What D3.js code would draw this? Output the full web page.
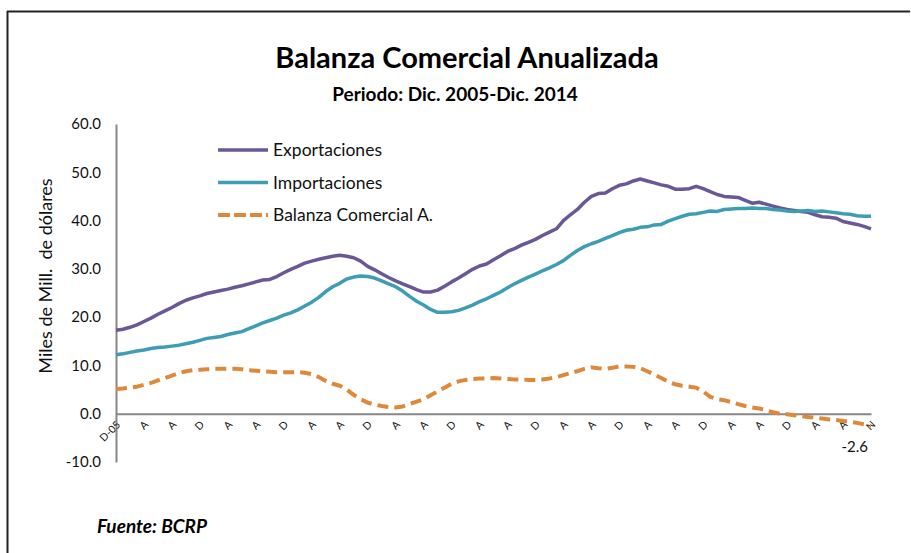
<!DOCTYPE html>
<html>
<head>
<meta charset="utf-8">
<script src="https://cdn.jsdelivr.net/npm/d3@7"></script>
<style>
  body { margin: 0; background: #fff; }
  svg { display: block; font-family: Lato, "Open Sans", sans-serif; }
</style>
</head>
<body>
<div id="chart"></div>
<script>
// monthly, Dic-2005 .. Dic-2014 (miles de millones de US$)
const exportaciones = [
  17.3, 17.5, 17.9, 18.4, 19.1, 19.8, 20.6, 21.3, 22.0, 22.8, 23.5, 24.0, 24.4,
  24.9, 25.2, 25.5, 25.8, 26.2, 26.5, 26.9, 27.3, 27.7, 27.8, 28.4, 29.2, 29.9,
  30.5, 31.2, 31.6, 32.0, 32.3, 32.6, 32.8, 32.6, 32.3, 31.6, 30.5, 29.8, 29.0,
  28.2, 27.5, 26.9, 26.3, 25.7, 25.2, 25.2, 25.6, 26.4, 27.3, 28.1, 29.0, 29.9,
  30.6, 31.0, 31.9, 32.7, 33.6, 34.2, 34.9, 35.5, 36.1, 36.9, 37.6, 38.3, 40.0,
  41.2, 42.3, 43.8, 45.0, 45.6, 45.7, 46.6, 47.3, 47.6, 48.2, 48.6, 48.2, 47.8,
  47.4, 47.1, 46.5, 46.5, 46.6, 47.1, 46.6, 46.0, 45.4, 45.0, 44.9, 44.8, 44.2,
  43.6, 43.8, 43.4, 43.0, 42.6, 42.3, 42.1, 41.9, 41.7, 41.2, 40.8, 40.7, 40.5,
  39.8, 39.5, 39.2, 38.8, 38.3
];
const importaciones = [
  12.2, 12.4, 12.7, 13.0, 13.2, 13.5, 13.7, 13.8, 14.0, 14.2, 14.5, 14.8, 15.2,
  15.6, 15.8, 16.0, 16.4, 16.7, 17.0, 17.6, 18.2, 18.8, 19.3, 19.8, 20.4, 20.9,
  21.5, 22.3, 23.1, 24.1, 25.3, 26.3, 27.0, 27.9, 28.3, 28.5, 28.4, 28.1, 27.5,
  26.9, 26.3, 25.4, 24.3, 23.3, 22.5, 21.6, 21.0, 21.0, 21.1, 21.4, 21.9, 22.5,
  23.2, 23.8, 24.5, 25.2, 26.1, 26.9, 27.6, 28.3, 28.9, 29.6, 30.2, 30.9, 31.7,
  32.8, 33.8, 34.6, 35.2, 35.7, 36.3, 36.9, 37.5, 38.0, 38.2, 38.6, 38.7, 39.1,
  39.2, 39.9, 40.4, 40.9, 41.3, 41.4, 41.7, 42.0, 41.9, 42.3, 42.4, 42.5, 42.5,
  42.6, 42.5, 42.5, 42.3, 42.2, 42.0, 41.9, 42.0, 42.1, 41.9, 42.0, 41.8, 41.6,
  41.4, 41.3, 41.0, 40.9, 40.9
];
const balanza = [
  5.1, 5.2, 5.4, 5.6, 6.0, 6.4, 6.9, 7.4, 7.9, 8.4, 8.8, 9.0, 9.1,
  9.2, 9.3, 9.3, 9.3, 9.3, 9.2, 9.0, 8.9, 8.8, 8.7, 8.6, 8.6, 8.6,
  8.6, 8.5, 8.2, 7.6, 6.8, 6.2, 5.8, 5.0, 3.9, 3.0, 2.3, 1.9, 1.6,
  1.4, 1.3, 1.5, 2.0, 2.5, 3.0, 3.8, 4.6, 5.4, 6.2, 6.7, 7.0, 7.2,
  7.3, 7.3, 7.4, 7.3, 7.2, 7.1, 7.1, 7.0, 7.0, 7.1, 7.3, 7.6, 8.0,
  8.4, 8.8, 9.3, 9.6, 9.4, 9.3, 9.5, 9.8, 9.8, 9.7, 9.4, 8.8, 8.1,
  7.4, 6.6, 6.1, 5.8, 5.6, 5.4, 4.6, 3.5, 3.0, 2.8, 2.4, 2.0, 1.6,
  1.3, 1.1, 0.7, 0.3, 0.0, -0.1, -0.3, -0.5, -0.7, -0.8, -1.0, -1.2, -1.3,
  -1.5, -1.7, -1.9, -2.2, -2.6
];
// one label every 4 months
const tickLabels = [
  "D-05", "A", "A", "D", "A", "A", "D", "A", "A", "D", "A", "A", "D", "A",
  "A", "D", "A", "A", "D", "A", "A", "D", "A", "A", "D", "A", "A", "N"
];
const yTicks = [-10, 0, 10, 20, 30, 40, 50, 60];

const width = 911, height = 553;
const svg = d3.select("#chart").append("svg")
  .attr("width", width)
  .attr("height", height);

// hyphen instead of unicode minus, like the original
let fmt = v => d3.format(".1f")(v).replace("\u2212", "-");

// outer frame (only top/left visible in the capture)
svg.append("line").attr("x1", 7).attr("x2", 910).attr("y1", 11.5).attr("y2", 11.5)
  .attr("stroke", "#222").attr("stroke-width", 2);
svg.append("line").attr("x1", 7.5).attr("x2", 7.5).attr("y1", 11).attr("y2", height)
  .attr("stroke", "#222").attr("stroke-width", 2);

svg.append("text")
  .attr("x", 467).attr("y", 68)
  .attr("text-anchor", "middle")
  .style("font-size", "29px").style("font-weight", "bold")
  .text("Balanza Comercial Anualizada");

svg.append("text")
  .attr("x", 455).attr("y", 101)
  .attr("text-anchor", "middle")
  .style("font-size", "19px").style("font-weight", "bold")
  .text("Periodo: Dic. 2005-Dic. 2014");

let x = d3.scaleLinear().domain([0, exportaciones.length - 1]).range([116, 871]);
let y = d3.scaleLinear().domain([-10, 60]).range([462, 124]);

// y axis
let yAxis = svg.append("g")
  .attr("transform", "translate(116,0)")
  .call(d3.axisLeft(y).tickValues(yTicks).tickSize(0).tickPadding(15).tickFormat(fmt));
yAxis.select(".domain").attr("stroke", "#878787").attr("stroke-width", 2);
yAxis.selectAll("text").style("font-size", "15px").style("font-family", "Lato, sans-serif").attr("fill", "#111");

// x axis at zero
let xAxis = svg.append("g")
  .attr("transform", "translate(0," + y(0) + ")")
  .call(d3.axisBottom(x).tickValues(d3.range(0, 109, 4)).tickSize(0)
    .tickFormat((d, i) => tickLabels[i]));
xAxis.select(".domain").attr("stroke", "#878787").attr("stroke-width", 2);
xAxis.selectAll("text")
  .attr("text-anchor", "end")
  .attr("transform", "translate(2,9) rotate(-45)")
  .attr("dy", "0.35em").attr("y", 0).attr("x", 0)
  .style("font-size", "10.5px").style("font-family", "Lato, sans-serif").attr("fill", "#111");

svg.append("text")
  .attr("transform", "translate(52,276) rotate(-90)")
  .attr("text-anchor", "middle")
  .style("font-size", "18px")
  .style("white-space", "pre")
  .attr("fill", "#111")
  .text("Miles de Mill.  de dólares");

const series = [
  { name: "Exportaciones", values: exportaciones, color: "#6A5797", dash: null },
  { name: "Importaciones", values: importaciones, color: "#3C9DB5", dash: null },
  { name: "Balanza Comercial A.", values: balanza, color: "#E0883A", dash: "11,6" }
];

let line = d3.line().x((d, i) => x(i)).y(d => y(d));

series.forEach(s => {
  svg.append("path")
    .attr("d", line(s.values))
    .attr("fill", "none")
    .attr("stroke", s.color)
    .attr("stroke-width", s.dash ? 4 : 3.5)
    .attr("stroke-linejoin", "round")
    .attr("stroke-dasharray", s.dash);
});

// legend
series.forEach((s, i) => {
  let ly = 150 + i * 32.5;
  svg.append("line")
    .attr("x1", 218).attr("x2", 268).attr("y1", ly).attr("y2", ly)
    .attr("stroke", s.color).attr("stroke-width", s.dash ? 4 : 3.5)
    .attr("stroke-dasharray", s.dash ? "12,4" : null);
  svg.append("text")
    .attr("x", 273).attr("y", ly).attr("dy", "0.35em")
    .style("font-size", "17.5px").attr("fill", "#111")
    .text(s.name);
});

// last value label
let last = balanza.length - 1;
svg.append("text")
  .attr("x", x(last) - 3).attr("y", 447).attr("dy", "0.35em")
  .attr("text-anchor", "end")
  .style("font-size", "15px").attr("fill", "#111")
  .text(fmt(balanza[last]));

svg.append("text")
  .attr("x", 97).attr("y", 533)
  .style("font-size", "19px").style("font-weight", "bold").style("font-style", "italic")
  .text("Fuente: BCRP");
</script>
</body>
</html>
